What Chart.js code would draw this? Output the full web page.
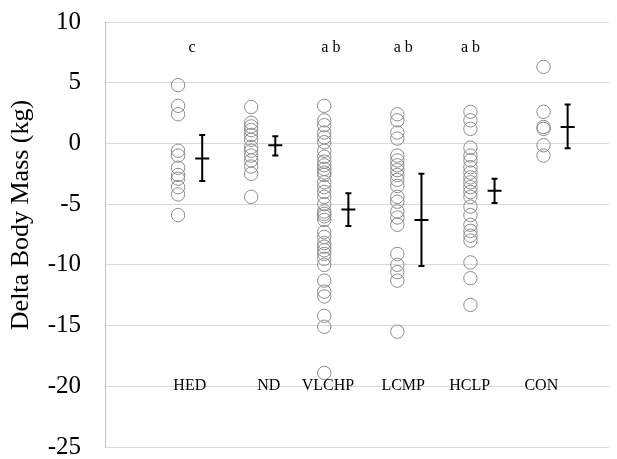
<!DOCTYPE html>
<html>
<head>
<meta charset="utf-8">
<script src="https://cdn.jsdelivr.net/npm/chart.js@4/dist/chart.umd.min.js"></script>
<style>
  html, body { margin: 0; padding: 0; background: #fff; }
  #wrap { width: 617px; height: 459px; }
</style>
</head>
<body>
<div id="wrap"><canvas id="c"></canvas></div>
<script>
// Nhóm chế độ ăn (trục x: vị trí 1..6), chấm tròn = từng người, thanh = TB ± SD
const groups = ['HED', 'ND', 'VLCHP', 'LCMP', 'HCLP', 'CON'];
const groupX = [1, 2, 3, 4, 5, 6];
const letters = ['c', '', 'a b', 'a b', 'a b', ''];
const letterX = [1.19, 2, 3.09, 4.08, 5.0, 6];
const labelX = [1.16, 2.24, 3.05, 4.08, 4.99, 5.97];

const hed = [4.8, 3.1, 2.4, -0.6, -1.0, -2.0, -2.6, -2.9, -3.6, -4.2, -5.9];
const nd = [3.0, 1.7, 1.4, 1.1, 0.7, 0.3, -0.3, -0.6, -1.0, -1.4, -1.9, -2.5, -4.4];
const vlchp = [3.1, 1.9, 1.5, 0.9, 0.5, 0.1, -0.6, -1.1, -1.5, -1.8, -2.1, -2.4, -2.6, -3.2, -3.6,
    -4.0, -4.4, -5.0, -5.6, -5.8, -6.0, -6.3, -7.3, -7.7, -8.2, -8.5, -8.8, -9.1, -9.5, -10.0,
    -11.3, -12.2, -12.6, -14.2, -15.1, -18.9];
const lcmp = [2.4, 1.9, 0.9, 0.4, -1.0, -1.4, -1.8, -2.2, -2.6, -3.0, -3.5, -4.4, -4.8, -5.6,
    -6.1, -6.7, -9.1, -10.0, -10.6, -11.3, -15.5];
const hclp = [2.6, 1.9, 1.2, -0.35, -1.0, -1.4, -1.95, -2.4, -2.8, -3.2, -3.6, -4.0, -4.4, -5.2,
    -5.9, -6.7, -7.2, -7.6, -8.0, -9.8, -11.1, -13.3];
const con = [6.3, 2.6, 1.35, 1.2, -0.15, -1.0];
const groupValues = [hed, nd, vlchp, lcmp, hclp, con];

const means = [-1.25, -0.15, -5.45, -6.3, -3.9, 1.35];
const barTop = [0.7, 0.6, -4.1, -2.5, -2.9, 3.2];
const barBottom = [-3.1, -1.0, -6.8, -10.1, -4.9, -0.4];
const barOffset = 0.33;

const yTicks = [10, 5, 0, -5, -10, -15, -20, -25];

const SERIF = '"Liberation Serif", "Times New Roman", serif';

const datasets = groupValues.map((vals, i) => ({
    label: groups[i],
    data: vals.map((v) => ({ x: groupX[i], y: v })),
    pointRadius: 6.7,
    pointHoverRadius: 6.7,
    pointBorderWidth: 1,
    pointBorderColor: '#8c8c8c',
    pointBackgroundColor: 'rgba(255,255,255,0)',
    showLine: false,
}));

// Vẽ thanh sai số + chữ thích — toạ độ lấy qua scale của Chart.js
const overlay = {
    id: 'overlay',
    afterDatasetsDraw(chart) {
        const { ctx, scales: { x, y } } = chart;
        ctx.save();
        ctx.strokeStyle = '#000';
        ctx.lineWidth = 2;
        groups.forEach((g, i) => {
            const px = x.getPixelForValue(groupX[i] + barOffset);
            const pt = y.getPixelForValue(barTop[i]);
            const pb = y.getPixelForValue(barBottom[i]);
            const pm = y.getPixelForValue(means[i]);
            ctx.beginPath();
            ctx.moveTo(px, pt); ctx.lineTo(px, pb);
            ctx.moveTo(px - 3, pt); ctx.lineTo(px + 3, pt);
            ctx.moveTo(px - 3, pb); ctx.lineTo(px + 3, pb);
            ctx.moveTo(px - 7, pm); ctx.lineTo(px + 7, pm);
            ctx.stroke();
        });
        ctx.fillStyle = '#000';
        ctx.font = '16px ' + SERIF;
        ctx.textAlign = 'center';
        ctx.textBaseline = 'middle';
        groups.forEach((g, i) => {
            if (letters[i]) ctx.fillText(letters[i], x.getPixelForValue(letterX[i]), y.getPixelForValue(7.9));
            ctx.fillText(g, x.getPixelForValue(labelX[i]), y.getPixelForValue(-20));
        });
        ctx.restore();
    },
};

new Chart(document.getElementById('c'), {
    type: 'scatter',
    data: { datasets },
    options: {
        responsive: true,
        maintainAspectRatio: false,
        animation: false,
        layout: { padding: { top: 22, bottom: 12, right: 2, left: 0 } },
        plugins: { legend: { display: false }, tooltip: { enabled: false } },
        scales: {
            x: {
                type: 'linear', min: 0, max: 6.9,
                display: false,
            },
            y: {
                min: -25, max: 10,
                afterBuildTicks: (s) => { s.ticks = yTicks.map((v) => ({ value: v })); },
                afterFit: (s) => { s.width = 105; },
                ticks: { color: '#000', padding: 0, font: { family: SERIF, size: 25, lineHeight: 0.9 } },
                grid: {
                    color: '#d9d9d9', lineWidth: 1,
                    drawTicks: true, tickLength: 24, tickColor: 'rgba(0,0,0,0)',
                },
                border: { display: true, color: '#bfbfbf' },
                title: {
                    display: true, text: '\u00a0\u00a0\u00a0\u00a0\u00a0\u00a0Delta Body Mass (kg)', color: '#000',
                    font: { family: SERIF, size: 26 }, padding: { top: 6, bottom: 0 },
                },
            },
        },
    },
    plugins: [overlay],
});
</script>
</body>
</html>
